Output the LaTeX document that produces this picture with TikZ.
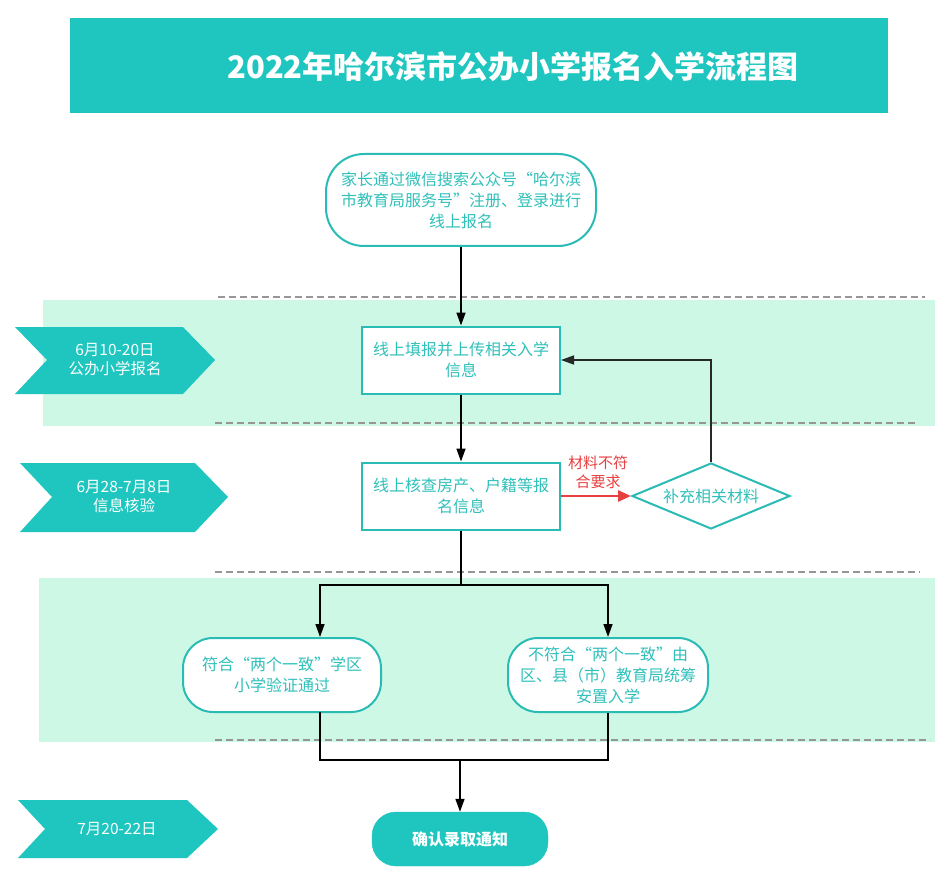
\documentclass[tikz,border=0pt]{standalone}
\usepackage{fontspec}
\setmainfont{Noto Sans CJK SC}
\usetikzlibrary{shapes.geometric,arrows.meta,calc}
\definecolor{tealA}{RGB}{31,198,191}
\definecolor{mint}{RGB}{205,248,229}
\definecolor{tealT}{RGB}{48,192,186}
\definecolor{tealB}{RGB}{42,188,180}
\definecolor{redA}{RGB}{232,64,64}
\definecolor{dashg}{RGB}{150,150,150}
\definecolor{darkl}{RGB}{40,40,40}
\tikzset{
  txt/.style={font=\fontsize{16}{21}\selectfont, text=tealT, align=center, inner sep=0pt},
  rbox/.style={txt, draw=tealB, line width=2pt, fill=white},
  sqbox/.style={rbox, minimum width=198pt, minimum height=67pt},
  pill/.style={rbox},
  chev/.style={fill=tealA},
  chevtxt/.style={font=\fontsize{15.5}{19}\selectfont, text=white, align=center, inner sep=0pt},
  conn/.style={draw=black, line width=1.6pt, -{Triangle[length=13pt,width=9pt]}},
  plain/.style={draw=black, line width=1.6pt},
  sep/.style={draw=dashg, line width=1.6pt, dash pattern=on 7pt off 4pt},
}
\begin{document}
\begin{tikzpicture}[x=1pt,y=-1pt]
\useasboundingbox (0,0) rectangle (947,877);
\fill[white] (0,0) rectangle (947,877);
% title bar
\fill[tealA] (70,18) rectangle (888,113);
\node[font=\fontsize{31}{36}\selectfont\bfseries, text=white, inner sep=0pt] (title) at (513,67) {2022年哈尔滨市公办小学报名入学流程图};
% bands
\fill[mint] (43,300) rectangle (935,426);
\fill[mint] (39,578) rectangle (935,742);
\draw[sep] (218,297) -- (925,297);
\draw[sep] (215,423) -- (918,423);
\draw[sep] (215,572) -- (920,572);
\draw[sep] (215,740) -- (930,740);
% chevrons
\fill[chev] (15,327) -- (183,327) -- (215,360) -- (183,394) -- (15,394) -- (47,360) -- cycle;
\node[chevtxt] (c1) at (115,360) {6月10-20日\\公办小学报名};
\fill[chev] (20,463) -- (195,463) -- (228,497) -- (195,532) -- (20,532) -- (52,497) -- cycle;
\node[chevtxt] (c2) at (124,497) {6月28-7月8日\\信息核验};
\fill[chev] (18,800) -- (187,800) -- (218,829) -- (187,858) -- (18,858) -- (45,829) -- cycle;
\node[chevtxt] (c3) at (117,829) {7月20-22日};
% nodes
\node[pill, minimum width=270pt, minimum height=92pt, rounded corners=38pt] (top) at (461,200)
  {家长通过微信搜索公众号“哈尔滨\\市教育局服务号”注册、登录进行\\线上报名};
\node[sqbox] (b1) at (461,360) {线上填报并上传相关入学\\信息};
\node[sqbox] (b2) at (461,496) {线上核查房产、户籍等报\\名信息};
\node[txt, draw=tealB, line width=2pt, fill=white, shape=diamond, aspect=2.4, minimum width=158pt, minimum height=66pt] (dia) at (711,496) {补充相关材料};
\node[font=\fontsize{15}{19}\selectfont, text=redA, align=center, inner sep=0pt] (lab) at (598,472) {材料不符\\合要求};
\node[pill, minimum width=198pt, minimum height=74pt, rounded corners=30pt] (l) at (282,675) {符合“两个一致”学区\\小学验证通过};
\node[pill, minimum width=200pt, minimum height=74pt, rounded corners=30pt] (r) at (608,675) {不符合“两个一致”由\\区、县（市）教育局统筹\\安置入学};
\node[fill=tealA, draw=tealA, minimum width=176pt, minimum height=54pt, rounded corners=24pt, font=\fontsize{16}{20}\selectfont\bfseries, text=white, inner sep=0pt] (f) at (460,839) {确认录取通知};
% coordinates
\coordinate (sp) at (461,585);
\coordinate (lj) at (320,585);
\coordinate (rj) at (608,585);
\coordinate (lb) at (320,712);
\coordinate (ml) at (320,760);
\coordinate (mr) at (608,760);
\coordinate (mc) at (460,760);
% connectors
\draw[conn] (top.south) -- (b1.north);
\draw[conn] (b1.south) -- (b2.north);
\draw[draw=redA, line width=2.8pt, -{Triangle[length=13pt,width=11pt]}] (b2.east) -- (dia.west);
\draw[conn, draw=darkl] (dia.north) |- (b1.east);
\draw[plain] (b2.south) -- (sp);
\draw[conn] (sp) -- (lj) -- (lj |- l.north);
\draw[conn] (sp) -- (rj) -- (r.north);
\draw[plain] (lb) -- (ml) -- (mr) -- (r.south);
\draw[conn] (mc) -- (f.north);
\end{tikzpicture}
\end{document}
